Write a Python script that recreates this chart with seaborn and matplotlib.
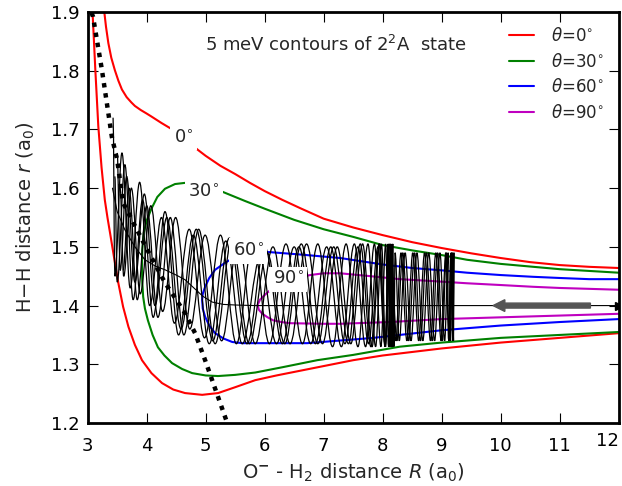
import numpy as np
import pandas as pd
import matplotlib
matplotlib.use("Agg")
import matplotlib.pyplot as plt
from matplotlib.path import Path
from matplotlib.patches import PathPatch
import matplotlib.transforms as mtransforms
import seaborn as sns

# ---------------- data ----------------
# theta = 0 deg contour (two branches)
red_up_R = [3.27, 3.31, 3.35, 3.40, 3.46, 3.52, 3.58, 3.66, 3.74, 3.80, 3.90, 4.00, 4.08,
            4.25, 4.45, 4.65, 4.87, 5.00, 5.25, 5.50, 5.75, 6.00, 6.30, 6.60, 7.00, 7.50,
            8.00, 8.50, 9.00, 9.50, 10.00, 10.50, 11.00, 11.50, 12.00]
red_up_r = [1.910, 1.875, 1.847, 1.822, 1.801, 1.783, 1.768, 1.755, 1.746, 1.740, 1.733,
            1.727, 1.722, 1.711, 1.699, 1.683, 1.665, 1.655, 1.638, 1.624, 1.609, 1.595,
            1.580, 1.566, 1.548, 1.533, 1.520, 1.508, 1.498, 1.489, 1.481, 1.474, 1.469,
            1.466, 1.464]
red_lo_R = [3.08, 3.13, 3.18, 3.235, 3.29, 3.335, 3.38, 3.45, 3.52, 3.60, 3.69, 3.80, 3.92,
            4.08, 4.26, 4.45, 4.65, 4.94, 5.21, 5.50, 5.84, 6.20, 6.60, 7.00, 7.50, 8.00,
            8.50, 9.00, 10.00, 11.00, 12.00]
red_lo_r = [1.904, 1.800, 1.705, 1.635, 1.580, 1.550, 1.523, 1.480, 1.438, 1.398, 1.364,
            1.333, 1.307, 1.285, 1.268, 1.257, 1.251, 1.248, 1.251, 1.261, 1.273, 1.281,
            1.289, 1.297, 1.307, 1.315, 1.321, 1.327, 1.337, 1.345, 1.353]
# theta = 30 deg contour
green_R = [12.00, 11.00, 10.00, 9.43, 9.00, 8.50, 8.00, 7.50, 7.00, 6.50, 6.00, 5.67, 5.28,
           4.97, 4.65, 4.48, 4.31, 4.18, 4.08, 4.00, 3.95, 3.925, 3.92, 3.925, 3.94, 3.97,
           4.02, 4.10, 4.19, 4.30, 4.43, 4.60, 4.77, 5.00, 5.21, 5.50, 5.84, 6.30, 6.89,
           7.50, 8.29, 9.00, 10.00, 11.00, 12.00]
green_r = [1.456, 1.462, 1.471, 1.478, 1.486, 1.494, 1.503, 1.517, 1.530, 1.546, 1.565,
           1.578, 1.594, 1.604, 1.609, 1.607, 1.599, 1.585, 1.565, 1.545, 1.524, 1.495,
           1.466, 1.440, 1.415, 1.395, 1.375, 1.350, 1.329, 1.315, 1.302, 1.292, 1.285,
           1.281, 1.280, 1.282, 1.286, 1.295, 1.307, 1.316, 1.330, 1.337, 1.345, 1.350, 1.355]
# theta = 60 deg contour
blue_R = [12.00, 11.50, 11.00, 10.55, 10.00, 9.43, 9.00, 8.50, 8.00, 7.28, 6.60, 6.09, 5.75,
          5.62, 5.50, 5.33, 5.16, 5.06, 4.99, 4.95, 4.94, 4.95, 4.99, 5.06, 5.16, 5.30,
          5.45, 5.62, 5.79, 6.72, 7.84, 9.00, 10.00, 11.00, 12.00]
blue_r = [1.445, 1.445, 1.447, 1.449, 1.452, 1.456, 1.460, 1.464, 1.470, 1.481, 1.487,
          1.491, 1.492, 1.489, 1.483, 1.473, 1.461, 1.447, 1.432, 1.420, 1.410, 1.395,
          1.381, 1.366, 1.353, 1.344, 1.338, 1.336, 1.336, 1.336, 1.345, 1.358, 1.366,
          1.372, 1.377]
# theta = 90 deg contour
mag_R = [12.00, 11.00, 10.55, 10.00, 9.43, 8.80, 8.29, 7.80, 7.28, 7.00, 6.77, 6.40, 6.14,
         6.02, 5.92, 5.88, 5.90, 5.96, 6.05, 6.14, 6.28, 6.43, 7.00, 7.28, 8.12, 9.00,
         10.00, 11.00, 12.00]
mag_r = [1.427, 1.430, 1.432, 1.435, 1.438, 1.442, 1.445, 1.450, 1.455, 1.455, 1.452,
         1.444, 1.430, 1.420, 1.410, 1.401, 1.393, 1.386, 1.380, 1.375, 1.372, 1.370,
         1.369, 1.369, 1.372, 1.377, 1.380, 1.383, 1.386]

# minimum-energy path (thick dotted)
path_R = [3.00, 3.09, 3.24, 3.41, 3.50, 3.60, 4.01, 4.31, 4.65, 4.82, 4.99, 5.33, 5.40]
path_r = [1.915, 1.892, 1.802, 1.687, 1.648, 1.575, 1.495, 1.439, 1.387, 1.353, 1.307, 1.210, 1.190]

# averaged trajectory (thin line)
avg_R = [3.42, 3.50, 3.63, 3.80, 3.97, 4.15, 4.31, 4.50, 4.65, 4.80, 4.95, 5.11, 5.30, 5.50,
         5.84, 7.00, 9.00, 12.00]
avg_r = [1.600, 1.560, 1.529, 1.500, 1.478, 1.467, 1.461, 1.452, 1.444, 1.430, 1.416, 1.406,
         1.402, 1.401, 1.400, 1.400, 1.400, 1.400]

# classical trajectories: turning points (R, r) of the H2 vibration
trajA_R = [3.43, 3.46, 3.58, 3.72, 3.88, 4.05, 4.25, 4.47, 4.72, 4.98, 5.25, 5.52, 5.80, 6.08,
           6.36, 6.64, 6.90, 7.15, 7.38, 7.58, 7.75, 7.88, 7.98, 8.05, 8.09, 8.12, 8.14, 8.16, 8.17]
trajA_r = [1.72, 1.45, 1.66, 1.43, 1.61, 1.40, 1.55, 1.37, 1.53, 1.345, 1.52, 1.335, 1.51, 1.335,
           1.505, 1.335, 1.505, 1.33, 1.505, 1.33, 1.505, 1.33, 1.505, 1.33, 1.505, 1.33, 1.505,
           1.33, 1.505]
trajB_R = [3.50, 3.55, 3.66, 3.80, 3.96, 4.14, 4.34, 4.58, 4.84, 5.12, 5.40, 5.70, 6.00, 6.30,
           6.58, 6.86, 7.12, 7.36, 7.58, 7.76, 7.92, 8.04, 8.14, 8.24, 8.34, 8.44, 8.54, 8.64,
           8.74, 8.84, 8.93, 9.01, 9.08, 9.13, 9.17, 9.19, 9.20]
trajB_r = [1.66, 1.46, 1.62, 1.44, 1.59, 1.40, 1.55, 1.36, 1.53, 1.34, 1.515, 1.335, 1.50, 1.335,
           1.50, 1.335, 1.50, 1.335, 1.50, 1.335, 1.50, 1.335, 1.49, 1.34, 1.49, 1.34, 1.49, 1.34,
           1.49, 1.34, 1.49, 1.34, 1.49, 1.34, 1.49, 1.34, 1.49]
trajC_R = [3.55, 3.61, 3.74, 3.89, 4.07, 4.27, 4.49, 4.73, 4.99, 5.27, 5.55, 5.84, 6.14, 6.43,
           6.71, 6.98, 7.23, 7.46, 7.66, 7.82, 7.95, 8.04, 8.10, 8.14, 8.17, 8.19, 8.21, 8.28,
           8.38, 8.48, 8.58, 8.68, 8.78, 8.88, 8.97, 9.05, 9.11, 9.15, 9.18, 9.20, 9.21]
trajC_r = [1.60, 1.45, 1.60, 1.42, 1.57, 1.39, 1.55, 1.36, 1.52, 1.34, 1.51, 1.335, 1.50, 1.335,
           1.505, 1.335, 1.50, 1.335, 1.505, 1.33, 1.505, 1.33, 1.505, 1.33, 1.505, 1.33, 1.49,
           1.34, 1.49, 1.34, 1.49, 1.34, 1.49, 1.34, 1.49, 1.34, 1.49, 1.34, 1.49, 1.34, 1.49]
trajD_R = [3.46, 3.50, 3.63, 3.77, 3.93, 4.11, 4.31, 4.54, 4.79, 5.06, 5.34, 5.62, 5.92, 6.20,
           6.50, 6.78, 7.05, 7.30, 7.52, 7.71, 7.86, 7.97, 8.05, 8.10, 8.13, 8.15, 8.16]
trajD_r = [1.62, 1.44, 1.64, 1.41, 1.58, 1.38, 1.56, 1.35, 1.52, 1.335, 1.51, 1.335, 1.48, 1.335,
           1.50, 1.335, 1.50, 1.33, 1.505, 1.33, 1.505, 1.33, 1.505, 1.33, 1.505, 1.33, 1.505]
trajE_R = [3.60, 3.70, 3.84, 4.00, 4.19, 4.40, 4.63, 4.88, 5.16, 5.44, 5.74, 6.04, 6.34, 6.62,
           6.90, 7.17, 7.42, 7.62, 7.80, 7.94, 8.04, 8.12, 8.22, 8.31, 8.41, 8.51, 8.61, 8.71,
           8.81, 8.90, 8.99, 9.07, 9.12, 9.16, 9.19, 9.21]
trajE_r = [1.46, 1.60, 1.41, 1.57, 1.38, 1.55, 1.35, 1.53, 1.335, 1.51, 1.335, 1.49, 1.335, 1.505,
           1.335, 1.50, 1.335, 1.505, 1.33, 1.505, 1.33, 1.505, 1.34, 1.49, 1.34, 1.49, 1.34, 1.49,
           1.34, 1.49, 1.34, 1.49, 1.34, 1.49, 1.34, 1.49]

# contour labels
clab_text = ["0$^{\\circ}$", "30$^{\\circ}$", "60$^{\\circ}$", "90$^{\\circ}$"]
clab_R = [4.63, 4.97, 5.72, 6.40]
clab_r = [1.686, 1.594, 1.493, 1.445]

legend_labels = ["$\\theta$=0$^{\\circ}$", "$\\theta$=30$^{\\circ}$",
                 "$\\theta$=60$^{\\circ}$", "$\\theta$=90$^{\\circ}$"]
x_ticks = [3, 4, 5, 6, 7, 8, 9, 10, 11, 12]
y_ticks = [1.2, 1.3, 1.4, 1.5, 1.6, 1.7, 1.8, 1.9]

# arrow (start / end R on r = 1.4)
arrow_R0, arrow_R1, arrow_r = 11.52, 9.87, 1.40

# ---------------- style ----------------
sns.set_style("ticks")
plt.rcParams.update({
    "font.family": ["DejaVu Sans"],
    "mathtext.fontset": "dejavusans",
    "xtick.direction": "in", "ytick.direction": "in",
    "xtick.top": True, "ytick.right": True,
    "xtick.major.size": 7.5, "ytick.major.size": 7.5,
    "xtick.major.width": 0.8, "ytick.major.width": 0.8,
    "xtick.color": "black", "ytick.color": "black",
    "axes.edgecolor": "black",
    "axes.linewidth": 2.0,
    "xtick.labelsize": 13, "ytick.labelsize": 13,
})

fig = plt.figure(figsize=(6.22, 4.86), dpi=100)
ax = fig.add_axes([0.141, 0.1296, 0.8537, 0.8457])

RED, GREEN, BLUE, MAG = "#ff0000", "#008000", "#0000ff", "#bf00bf"

def line(R, r, color, lw=1.5, **kw):
    sns.lineplot(x=R, y=r, sort=False, estimator=None, color=color, lw=lw, ax=ax, **kw)

line(red_up_R, red_up_r, RED, zorder=2)
line(red_lo_R, red_lo_r, RED, zorder=2)
line(green_R, green_r, GREEN, zorder=2)
line(blue_R, blue_r, BLUE, zorder=2)
line(mag_R, mag_r, MAG, zorder=2)

# trajectories drawn as smooth curves through their turning points
def wave_path(R, r, k=0.36):
    verts = [(R[0], r[0])]
    codes = [Path.MOVETO]
    for i in range(1, len(R)):
        d = R[i] - R[i - 1]
        verts += [(R[i - 1] + k * d, r[i - 1]), (R[i] - k * d, r[i]), (R[i], r[i])]
        codes += [Path.CURVE4] * 3
    return Path(verts, codes)

for TR, Tr in [(trajA_R, trajA_r), (trajB_R, trajB_r), (trajC_R, trajC_r),
               (trajD_R, trajD_r), (trajE_R, trajE_r)]:
    ax.add_patch(PathPatch(wave_path(TR, Tr), fill=False, edgecolor="black", lw=0.9, zorder=3))

line(avg_R, avg_r, "black", lw=0.8, zorder=3)
ax.plot([avg_R[-1]], [avg_r[-1]], marker=">", ms=6, color="black", clip_on=True, zorder=6)

# minimum energy path
sns.lineplot(x=path_R, y=path_r, sort=False, estimator=None, color="black", lw=3.2,
             ax=ax, zorder=4)
ax.lines[-1].set_linestyle((0, (1.0, 1.3)))

# arrow
ax.arrow(arrow_R0, arrow_r, arrow_R1 - arrow_R0, 0, width=0.0085, head_width=0.02,
         head_length=0.2, length_includes_head=True, color="#555555", zorder=5)

# contour labels
for t, R, r in zip(clab_text, clab_R, clab_r):
    ax.text(R, r, t, fontsize=13, ha="center", va="center", zorder=5,
            bbox=dict(boxstyle="square,pad=0.2", fc="white", ec="none"))

ax.text(0.468, 0.92, "5 meV contours of 2$^2$A  state", transform=ax.transAxes,
        fontsize=13, ha="center", va="center", zorder=6)

ax.set_xlim(3, 12)
ax.set_ylim(1.2, 1.9)
ax.set_xticks(x_ticks)
ax.set_xticklabels([str(v) for v in x_ticks])
ax.set_yticks(y_ticks)
ax.set_yticklabels([f"{v:.1f}" for v in y_ticks])
ax.tick_params(axis="x", pad=10)
ax.tick_params(axis="y", pad=6)
last = ax.get_xticklabels()[-1]
last.set_ha("right")
last.set_transform(last.get_transform() +
                   mtransforms.ScaledTranslation(0, 5 / 100, fig.dpi_scale_trans))

ax.set_xlabel("O$^{\\mathbf{-}}$ - H$_2$ distance $R$ (a$_0$)", fontsize=14, labelpad=5)
ax.set_ylabel("H$-$H distance $r$ (a$_0$)", fontsize=14, labelpad=10)

handles = [plt.Line2D([], [], color=c, lw=1.5) for c in [RED, GREEN, BLUE, MAG]]
ax.legend(handles, legend_labels, loc="upper right", frameon=False, fontsize=12,
          handlelength=1.5, handletextpad=1.0, labelspacing=0.45)

fig.savefig("out.png", dpi=100)
